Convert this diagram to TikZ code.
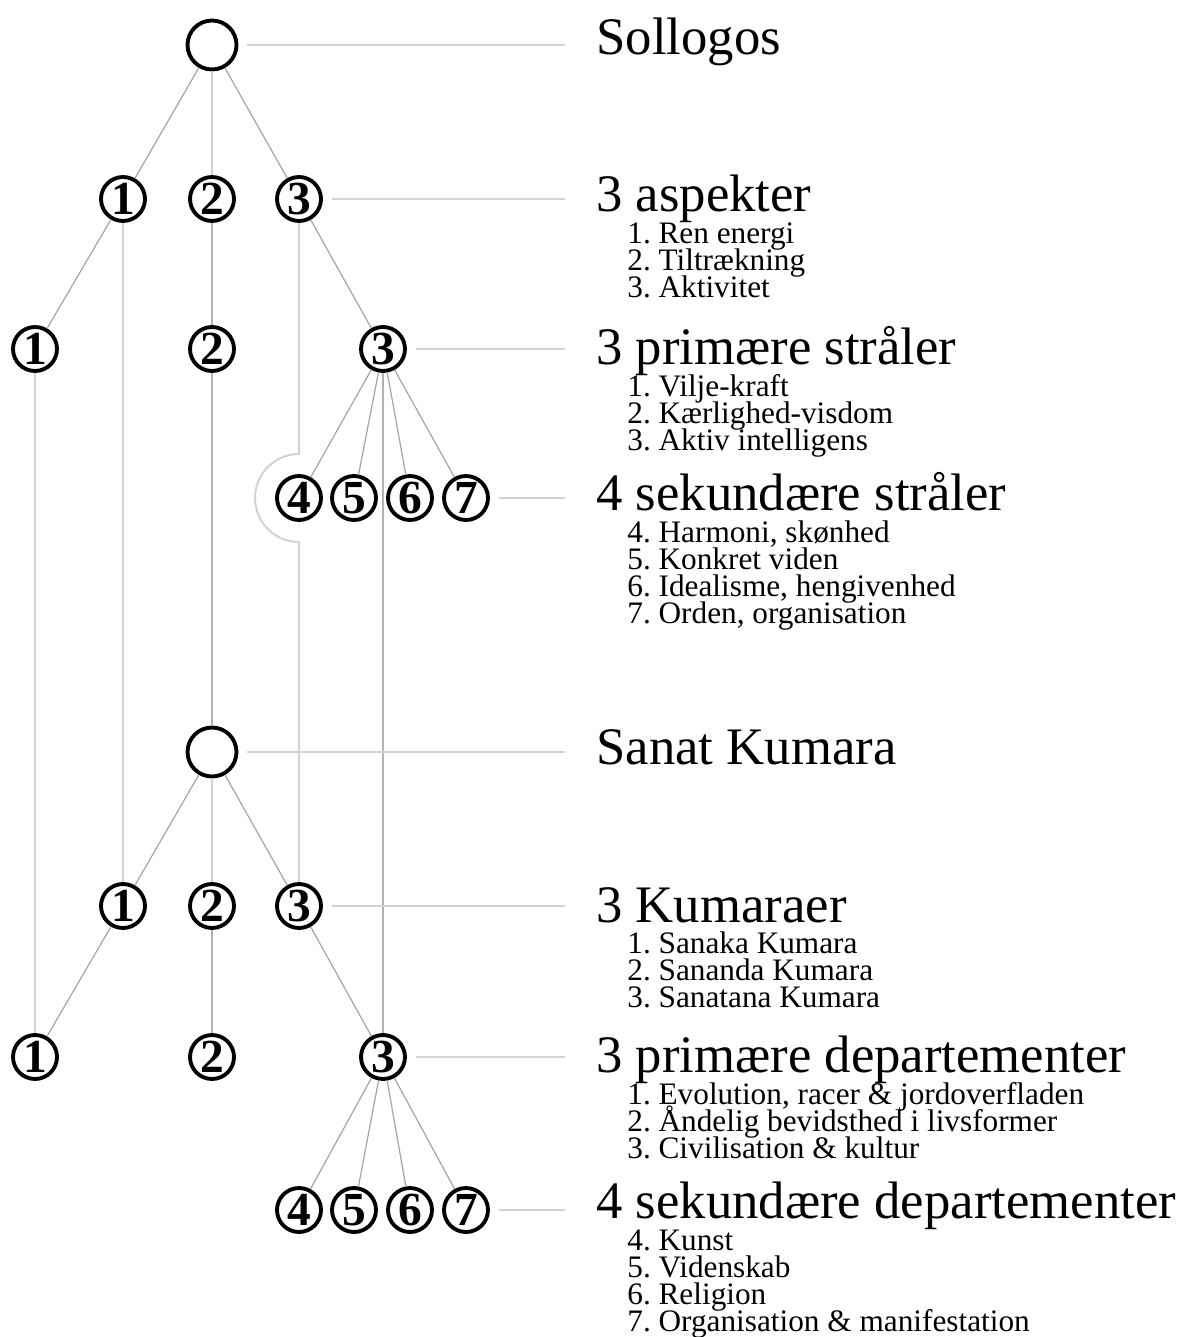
\documentclass[tikz,border=0pt]{standalone}
\usepackage{fontspec}
\setmainfont{Liberation Serif}
\frenchspacing

\tikzset{
  ring/.style={circle, draw, line width=2.2pt, minimum size=0.88cm, inner sep=0pt, fill=white,
    font=\fontsize{27}{27}\selectfont\bfseries},
  bigring/.style={ring, minimum size=0.98cm},
  branch/.style={draw=gray!70, line width=0.7pt},
  stem/.style={draw=gray!35, line width=1.1pt},
  trunk/.style={draw=gray!60, line width=1.2pt},
  leader/.style={draw=gray!35, line width=1.3pt},
  heading/.style={anchor=base west, inner sep=0pt, text height=0.7em, text depth=0.1em,
    font=\fontsize{30}{30}\selectfont},
  entry/.style={anchor=base west, inner sep=0pt, text height=0.62em, text depth=0.1em,
    font=\fontsize{17.8}{17.8}\selectfont}
}

\begin{document}
\begin{tikzpicture}[x=0.02cm, y=-0.02cm]
    \useasboundingbox (0,0) rectangle (1188,1337);

    % solar logos and its rays
    \node[bigring] (sol) at (212,45) {};
    \node[ring] (a1) at (123,199) {1};
    \node[ring] (a2) at (212,199) {2};
    \node[ring] (a3) at (299,199) {3};
    \node[ring] (r1) at (35,349) {1};
    \node[ring] (r2) at (212,349) {2};
    \node[ring] (r3) at (383,349) {3};
    \foreach \n/\x in {4/299, 5/354, 6/410, 7/466}
        \node[ring] (s\n) at (\x,498) {\n};

    % planetary logos and departments
    \node[bigring] (sk) at (212,752) {};
    \node[ring] (k1) at (123,906) {1};
    \node[ring] (k2) at (212,906) {2};
    \node[ring] (k3) at (299,906) {3};
    \node[ring] (d1) at (35,1057) {1};
    \node[ring] (d2) at (212,1057) {2};
    \node[ring] (d3) at (383,1057) {3};
    \foreach \n/\x in {4/299, 5/354, 6/410, 7/466}
        \node[ring] (t\n) at (\x,1210) {\n};

    % tree edges
    \draw[branch] (sol) -- (a1);
    \draw[branch] (sol) -- (a3);
    \draw[stem] (sol) -- (a2);
    \draw[branch] (a1) -- (r1);
    \draw[trunk] (a2) -- (r2);
    \draw[branch] (a3) -- (r3);
    \foreach \n in {4,5,6,7}
        \draw[branch] (r3) -- (s\n);
    \draw[branch] (sk) -- (k1);
    \draw[branch] (sk) -- (k3);
    \draw[stem] (sk) -- (k2);
    \draw[branch] (k1) -- (d1);
    \draw[trunk] (k2) -- (d2);
    \draw[branch] (k3) -- (d3);
    \foreach \n in {4,5,6,7}
        \draw[branch] (d3) -- (t\n);

    % long links between the two trees
    \draw[stem] (r1) -- (d1);
    \draw[stem] (a1) -- (k1);
    \draw[trunk] (r2) -- (sk);
    \draw[trunk] (r3) -- (d3);
    \coordinate (hop-top) at (299,454);
    \coordinate (hop-bot) at (299,542);
    \draw[stem] (a3) -- (hop-top) arc[start angle=90, end angle=270, radius=0.88cm] -- (k3);

    % leaders
    \foreach \a/\y in {sol/45, a3/199, r3/349, s7/498, sk/752, k3/906, d3/1057, t7/1210} {
        \coordinate (\a-end) at (565,\y);
        \draw[leader] ([xshift=5pt]\a.east) -- (\a-end);
    }

    % texts
    \node[heading] (h-sol) at (596,55) {Sollogos};
    \node[heading] (h-asp) at (596,212) {3 aspekter};
    \foreach \t [count=\i] in {1. Ren energi, 2. Tiltrækning, 3. Aktivitet}
        \node[entry] (asp\i) at (627,{244+27*(\i-1)}) {\t};
    \node[heading] (h-ps) at (596,365) {3 primære stråler};
    \foreach \t [count=\i] in {1. Vilje-kraft, 2. Kærlighed-visdom, 3. Aktiv intelligens}
        \node[entry] (ps\i) at (627,{397+27*(\i-1)}) {\t};
    \node[heading] (h-ss) at (596,510) {4 sekundære stråler};
    \foreach \t [count=\i] in {{4. Harmoni, skønhed}, 5. Konkret viden, {6. Idealisme, hengivenhed}, {7. Orden, organisation}}
        \node[entry] (ss\i) at (627,{542+27*(\i-1)}) {\t};
    \node[heading] (h-sk) at (596,764) {Sanat Kumara};
    \node[heading] (h-k) at (596,922) {3 Kumaraer};
    \foreach \t [count=\i] in {1. Sanaka Kumara, 2. Sananda Kumara, 3. Sanatana Kumara}
        \node[entry] (k\i-txt) at (627,{953+27*(\i-1)}) {\t};
    \node[heading] (h-pd) at (596,1072) {3 primære departementer};
    \foreach \t [count=\i] in {{1. Evolution, racer \& jordoverfladen}, 2. Åndelig bevidsthed i livsformer, 3. Civilisation \& kultur}
        \node[entry] (pd\i) at (627,{1104+27*(\i-1)}) {\t};
    \node[heading] (h-sd) at (596,1218) {4 sekundære departementer};
    \foreach \t [count=\i] in {4. Kunst, 5. Videnskab, 6. Religion, 7. Organisation \& manifestation}
        \node[entry] (sd\i) at (627,{1250+27*(\i-1)}) {\t};
\end{tikzpicture}
\end{document}
